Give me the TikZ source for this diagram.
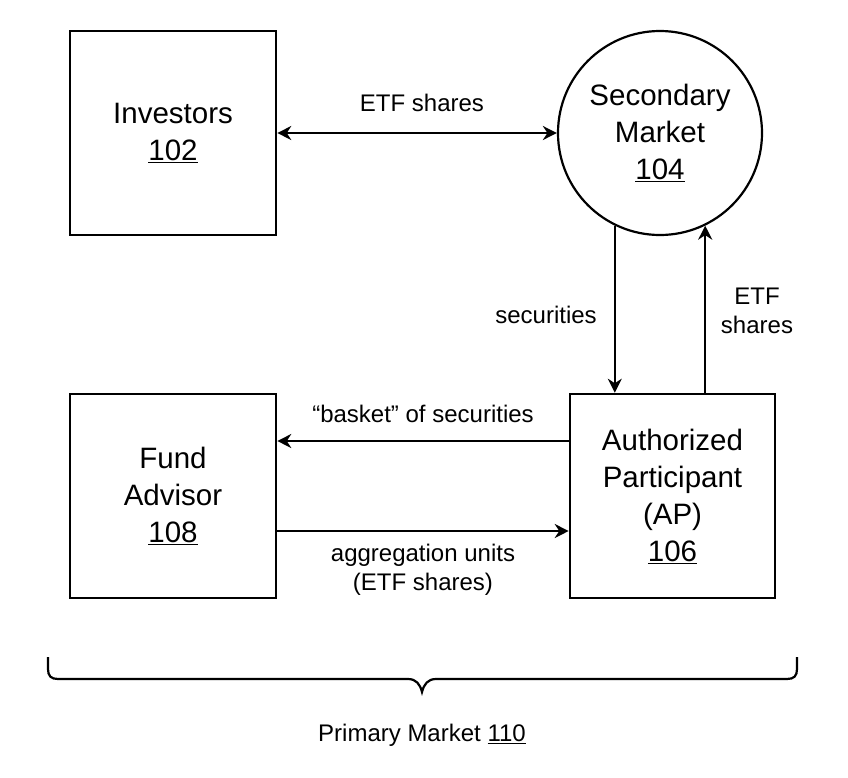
\documentclass[tikz,border=0pt]{standalone}
\usepackage{fontspec}
\setmainfont{Liberation Sans}
\usetikzlibrary{arrows.meta}

\begin{document}
\begin{tikzpicture}[x=1pt,y=-1pt,
    >={Stealth[length=14pt,width=14pt]},
    line width=2.2pt,
    box/.style={draw,line width=2.6pt,minimum width=206pt,minimum height=204pt,
        align=center,font=\fontsize{29.5}{37}\selectfont},
    market/.style={draw,circle,minimum size=204pt,inner sep=0pt,
        align=center,font=\fontsize{29.5}{37}\selectfont},
    lbl/.style={align=center,font=\fontsize{24}{29}\selectfont}]

    \useasboundingbox (0,0) rectangle (848,777);

    \node[box] (inv) at (173,133) {Investors\\\underline{102}};
    \node[market] (sec) at (660,133) {Secondary\\Market\\\underline{104}};
    \node[box] (fa) at (173,496) {Fund\\Advisor\\\underline{108}};
    \node[box,minimum width=205pt] (ap) at (672.5,496)
    {Authorized\\Participant\\(AP)\\\underline{106}};

    \path
    (inv)                        edge[<->] (sec)
    (sec.244)                    edge[->]  (sec.244 |- ap.north)
    (ap.north -| sec.296)        edge[->]  (sec.296)
    ([yshift=55pt]ap.west)       edge[->]  ([yshift=55pt]ap.west -| fa.east)
    ([yshift=-35pt]fa.east)      edge[->]  ([yshift=-35pt]fa.east -| ap.west);

    \node[lbl] (etf-top) at (422,103) {ETF shares};
    \node[lbl] (basket) at (423,414) {“basket” of securities};
    \node[lbl] (aggr) at (423,570) {aggregation units\\(ETF shares)};
    \node[lbl] (secs) at (546,315) {securities};
    \node[lbl] (etf-ap) at (757,311) {ETF\\shares};

    % brace under the primary market
    \draw (48,657) -- (48,669) .. controls (48,676) and (51,679) .. (58,679)
    -- (408,679) .. controls (416,679) and (420,684) .. (422,692)
    .. controls (424,684) and (428,679) .. (436,679)
    -- (787,679) .. controls (794,679) and (797,676) .. (797,669) -- (797,657);
    \node[lbl] (primary) at (422,735) {Primary Market \underline{110}};
\end{tikzpicture}
\end{document}
